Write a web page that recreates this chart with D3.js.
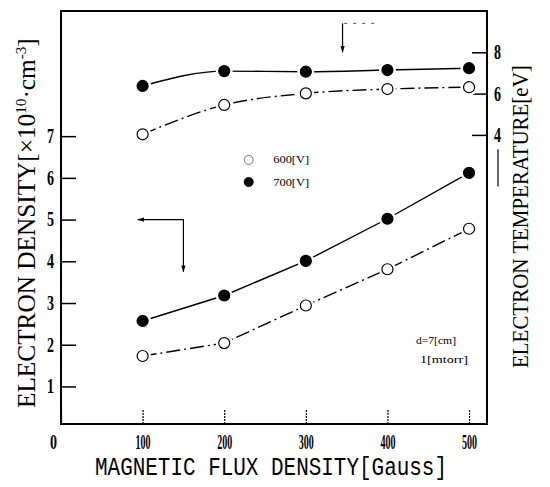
<!DOCTYPE html>
<html>
<head>
<meta charset="utf-8">
<script src="https://cdn.jsdelivr.net/npm/d3@7"></script>
<style>
  body { margin: 0; background: #fff; }
  svg { display: block; }
</style>
</head>
<body>
<svg width="550" height="487"></svg>
<script>
// data
const gauss = [100, 200, 300, 400, 500];
const density600 = [1.73, 2.04, 2.94, 3.81, 4.78];
const density700 = [2.57, 3.18, 4.01, 5.02, 6.12];
const temp600 = [4.03, 5.45, 6.01, 6.22, 6.31];
const temp700 = [6.37, 7.09, 7.06, 7.14, 7.23];
const xTicks = [0, 100, 200, 300, 400, 500];
const densityTicks = [1, 2, 3, 4, 5, 6, 7];
const tempTicks = [4, 6, 8];

// frame
const frameL = 61, frameR = 487, frameT = 11, frameB = 424;

const svg = d3.select("svg");

const x = d3.scaleLinear().domain([0, 522]).range([frameL, frameR]);
const yL = d3.scaleLinear().domain([0.1, 10]).range([frameB, frameT]);
const yR = d3.scaleLinear().domain([-10, 10]).range([frameB, frameT]);

const serif = "Liberation Serif, Times New Roman, serif";

// arrow head
svg.append("defs").append("marker")
  .attr("id", "head")
  .attr("viewBox", "0 0 10 10")
  .attr("refX", 9).attr("refY", 5)
  .attr("markerWidth", 7).attr("markerHeight", 7)
  .attr("markerUnits", "userSpaceOnUse")
  .attr("orient", "auto-start-reverse")
  .append("path")
  .attr("d", "M0,2L10,5L0,8Z")
  .attr("fill", "#000");

// axes
const xAxis = svg.append("g")
  .attr("transform", `translate(0,${frameB})`)
  .call(d3.axisBottom(x).tickValues(xTicks).tickSize(-15).tickPadding(11).tickFormat(d3.format("d")));
xAxis.selectAll("line").attr("stroke-width", 1.2).attr("stroke-dasharray", "2,1");
xAxis.selectAll("text")
  .attr("font-family", serif).attr("font-size", 20).attr("font-weight", "bold").attr("fill", "#000")
  .attr("textLength", d => d === 0 ? 7 : 15).attr("lengthAdjust", "spacingAndGlyphs")
  .attr("x", d => d === 0 ? -8 : 0);

const yAxisL = svg.append("g")
  .attr("transform", `translate(${frameL},0)`)
  .call(d3.axisLeft(yL).tickValues(densityTicks).tickSize(-15).tickPadding(7));
yAxisL.selectAll("line").attr("stroke-width", 1.5);
yAxisL.selectAll("text")
  .attr("font-family", serif).attr("font-size", 20).attr("font-weight", "bold").attr("fill", "#000")
  .attr("textLength", 7).attr("lengthAdjust", "spacingAndGlyphs");

const yAxisR = svg.append("g")
  .attr("transform", `translate(${frameR},0)`)
  .call(d3.axisRight(yR).tickValues(tempTicks).tickSize(-15).tickPadding(7));
yAxisR.selectAll("line").attr("stroke-width", 1.5);
yAxisR.selectAll("text")
  .attr("font-family", serif).attr("font-size", 20).attr("font-weight", "bold").attr("fill", "#000")
  .attr("textLength", 7).attr("lengthAdjust", "spacingAndGlyphs");

svg.selectAll(".domain").remove();

// plot frame
svg.append("rect")
  .attr("x", frameL).attr("y", frameT)
  .attr("width", frameR - frameL).attr("height", frameB - frameT)
  .attr("fill", "none").attr("stroke", "#000").attr("stroke-width", 2);

// series
const series = [
  { vals: density700, y: yL, filled: true, curve: d3.curveLinear },
  { vals: density600, y: yL, filled: false, curve: d3.curveLinear },
  { vals: temp700, y: yR, filled: true, curve: d3.curveMonotoneX },
  { vals: temp600, y: yR, filled: false, curve: d3.curveMonotoneX }
];

series.forEach(s => {
  const pts = gauss.map((g, i) => [g, s.vals[i]]);
  svg.append("path")
    .datum(pts)
    .attr("fill", "none")
    .attr("stroke", "#000")
    .attr("stroke-width", 1.4)
    .attr("stroke-dasharray", s.filled ? null : "14,4,2,4")
    .attr("d", d3.line().x(d => x(d[0])).y(d => s.y(d[1])).curve(s.curve));
});

series.forEach(s => {
  const pts = gauss.map((g, i) => [g, s.vals[i]]);
  const g = svg.append("g");
  // white gap round each marker
  g.selectAll(".halo").data(pts).join("circle")
    .attr("cx", d => x(d[0])).attr("cy", d => s.y(d[1]))
    .attr("r", 8.5).attr("fill", "#fff");
  g.selectAll(".dot").data(pts).join("circle")
    .attr("cx", d => x(d[0])).attr("cy", d => s.y(d[1]))
    .attr("r", 5.5)
    .attr("fill", s.filled ? "#000" : "#fff")
    .attr("stroke", "#000").attr("stroke-width", 1.2);
});

// legend
const legend = [
  { label: "600[V]", filled: false, v: 6.43 },
  { label: "700[V]", filled: true, v: 5.9 }
];
legend.forEach(l => {
  svg.append("circle")
    .attr("cx", x(230)).attr("cy", yL(l.v)).attr("r", 4.5)
    .attr("fill", l.filled ? "#000" : "#fff")
    .attr("stroke", l.filled ? "#000" : "#777").attr("stroke-width", 1);
  svg.append("text")
    .attr("x", x(260)).attr("y", yL(l.v)).attr("dy", "0.35em")
    .attr("font-family", serif).attr("font-size", 10)
    .attr("textLength", 36).attr("lengthAdjust", "spacingAndGlyphs")
    .text(l.label);
});

// conditions
[["d=7[cm]", 2.1], ["1[mtorr]", 1.64]].forEach(([t, v], i) => {
  svg.append("text")
    .attr("x", x(435) + i * 4).attr("y", yL(v)).attr("dy", "0.35em")
    .attr("font-family", serif).attr("font-size", 10)
    .attr("textLength", i ? 48 : 40).attr("lengthAdjust", "spacingAndGlyphs")
    .text(t);
});

// arrows
svg.append("path")
  .attr("d", `M${x(150)},${yL(3.75)}L${x(150)},${yL(5)}L${x(94)},${yL(5)}`)
  .attr("fill", "none").attr("stroke", "#000").attr("stroke-width", 1.2)
  .attr("marker-start", "url(#head)").attr("marker-end", "url(#head)");

svg.append("path")
  .attr("d", `M${x(345)},${yR(9.4)}L${x(345)},${yR(8)}`)
  .attr("fill", "none").attr("stroke", "#000").attr("stroke-width", 1.2)
  .attr("marker-end", "url(#head)");
svg.append("path")
  .attr("d", `M${x(347)},${yR(9.4)}L${x(385)},${yR(9.4)}`)
  .attr("fill", "none").attr("stroke", "#555").attr("stroke-width", 1)
  .attr("stroke-dasharray", "3,6");

svg.append("line")
  .attr("x1", frameR + 11).attr("x2", frameR + 11)
  .attr("y1", yR(3.3)).attr("y2", yR(1.5))
  .attr("stroke", "#000").attr("stroke-width", 1.2);

// axis titles, stretched to the width seen in the figure
function fit(sel, len) {
  const w = sel.node().getComputedTextLength();
  sel.attr("transform", `scale(${len / w},1)`);
}

const tl = svg.append("g").attr("transform", `translate(35,408) rotate(-90)`)
  .append("text")
  .attr("font-family", serif).attr("font-size", 25);
tl.append("tspan").text("ELECTRON DENSITY[\u00d710");
tl.append("tspan").attr("font-size", 15).attr("dy", -9).text("10");
tl.append("tspan").attr("dy", 9).text("\u00b7cm");
tl.append("tspan").attr("font-size", 15).attr("dy", -9).text("-3");
tl.append("tspan").attr("dy", 9).text("]");
fit(tl, 370);

const tr = svg.append("g").attr("transform", `translate(528,368) rotate(-90)`)
  .append("text")
  .attr("font-family", serif).attr("font-size", 24)
  .text("ELECTRON TEMPERATURE[eV]");
fit(tr, 303);

svg.append("text")
  .attr("x", 95).attr("y", 475)
  .attr("font-family", "Liberation Mono, Courier New, monospace").attr("font-size", 25)
  .attr("textLength", 352).attr("lengthAdjust", "spacingAndGlyphs")
  .text("MAGNETIC FLUX DENSITY[Gauss]");
</script>
</body>
</html>
